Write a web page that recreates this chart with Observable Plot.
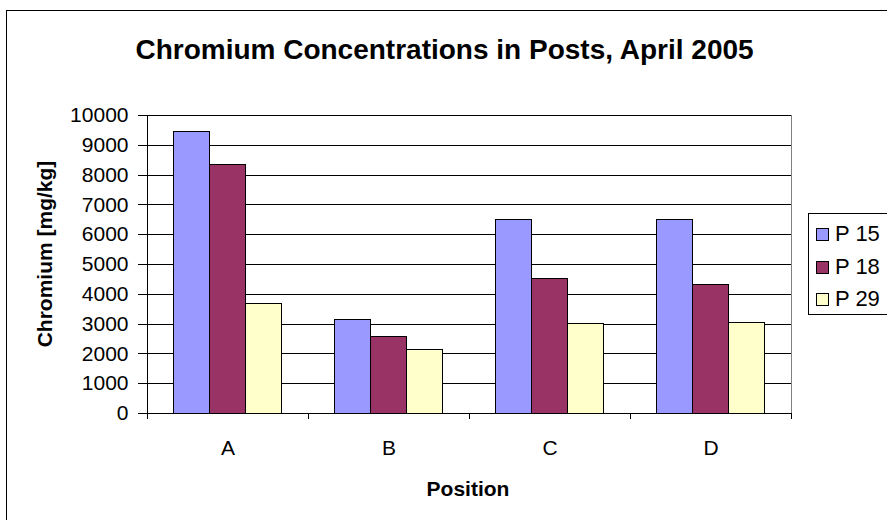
<!DOCTYPE html>
<html>
<head>
<meta charset="utf-8">
<script src="https://cdn.jsdelivr.net/npm/d3@7"></script>
<script src="https://cdn.jsdelivr.net/npm/@observablehq/plot@0.6"></script>
<style>
  html, body { margin: 0; padding: 0; background: #fff; overflow: hidden; }
  #wrap { position: relative; width: 887px; height: 520px; overflow: hidden; background: #fff;
          font-family: "Liberation Sans", Arial, sans-serif; color: #000; }
  #title { height: 90px; box-sizing: border-box; padding-top: 34px; padding-left: 2px; line-height: 32px;
           text-align: center; font-size: 28px; font-weight: bold; white-space: nowrap; }
  #frame { position: absolute; left: 6px; top: 10px; width: 1000px; height: 1000px;
           border: 1.5px solid #000; box-sizing: border-box; pointer-events: none; }
  #ytitle { position: absolute; left: 45px; top: 254px; transform: translate(-50%, -50%) rotate(-90deg);
            font-size: 21px; font-weight: bold; white-space: nowrap; line-height: 24px; }
  #xtitle { position: absolute; left: 468px; top: 489px; transform: translate(-50%, -50%);
            font-size: 21px; font-weight: bold; white-space: nowrap; line-height: 24px; }
  #legend { position: absolute; left: 808px; top: 213px; width: 120px; height: 102px; box-sizing: border-box;
            border: 1px solid #000; background: #fff; }
  .row { position: absolute; left: 7px; height: 24px; display: flex; align-items: center; font-size: 22px; line-height: 24px; white-space: nowrap; }
  .sw { width: 13px; height: 13px; box-sizing: border-box; border: 1px solid #000; margin-right: 6px; }
</style>
</head>
<body>
<div id="wrap">
  <div id="title">Chromium Concentrations in Posts, April 2005</div>
  <div id="chart"></div>
  <div id="ytitle">Chromium [mg/kg]</div>
  <div id="xtitle">Position</div>
  <div id="legend"></div>
  <div id="frame"></div>
</div>
<script>
// ---- data ----
const positions = ["A", "B", "C", "D"];
const seriesNames = ["P 15", "P 18", "P 29"];
const p15 = [9450, 3150, 6500, 6500];
const p18 = [8350, 2580, 4500, 4320];
const p29 = [3680, 2140, 3000, 3040];
const seriesColors = ["#9999FF", "#993366", "#FFFFCC"];
const yTicks = [0, 1000, 2000, 3000, 4000, 5000, 6000, 7000, 8000, 9000, 10000];

const seriesValues = [p15, p18, p29];
const rows = [];
positions.forEach((pos, i) => {
  seriesNames.forEach((s, j) => rows.push({position: pos, series: s, value: seriesValues[j][i]}));
});

const plot = Plot.plot({
  width: 887,
  height: 430,
  marginLeft: 147,
  marginRight: 96,
  marginTop: 25,
  marginBottom: 107,
  style: {fontFamily: "'Liberation Sans', Arial, sans-serif", color: "#000", background: "transparent", overflow: "visible"},
  fx: {domain: positions, padding: 0, round: false, label: null},
  x: {domain: seriesNames, paddingInner: 0, paddingOuter: 0.736, round: false, axis: null},
  y: {domain: [0, 10000], label: null},
  color: {domain: seriesNames, range: seriesColors},
  marks: [
    Plot.ruleY(yTicks, {stroke: "#000", strokeWidth: 1, shapeRendering: "crispEdges"}),
    Plot.barY(rows, {fx: "position", x: "series", y: "value", fill: "series", stroke: "#000", strokeWidth: 1, shapeRendering: "crispEdges"}),
    Plot.axisY({ticks: yTicks, tickSize: 9, tickPadding: 10, fontSize: 21, tickFormat: d => String(d), label: null, stroke: "#000", shapeRendering: "crispEdges"}),
    Plot.axisFx({anchor: "bottom", tickSize: 0, tickPadding: 27, fontSize: 21, label: null})
  ]
});
document.getElementById("chart").appendChild(plot);

// axis lines and category-boundary ticks from the plot's own scales
const fx = plot.scale("fx");
const y = plot.scale("y");
const yBase = y.apply(0), yTop = y.apply(10000);
const edges = positions.map(p => fx.apply(p));
edges.push(fx.apply(positions[positions.length - 1]) + fx.bandwidth);
const svg = d3.select(plot);
const g = svg.append("g").attr("shape-rendering", "crispEdges");
g.append("line").attr("x1", edges[edges.length - 1]).attr("x2", edges[edges.length - 1])
  .attr("y1", yTop).attr("y2", yBase).attr("stroke", "#808080");
g.append("line").attr("x1", edges[0]).attr("x2", edges[0])
  .attr("y1", yTop).attr("y2", yBase + 6).attr("stroke", "#000");
edges.forEach(x => g.append("line").attr("x1", x).attr("x2", x)
  .attr("y1", yBase).attr("y2", yBase + 6).attr("stroke", "#000"));

// legend
const legend = document.getElementById("legend");
const rowTops = [8, 41, 73];
seriesNames.forEach((s, i) => {
  const r = document.createElement("div");
  r.className = "row";
  r.style.top = rowTops[i] + "px";
  const sw = document.createElement("div");
  sw.className = "sw";
  sw.style.background = seriesColors[i];
  const t = document.createElement("span");
  t.textContent = s;
  r.appendChild(sw); r.appendChild(t);
  legend.appendChild(r);
});
</script>
</body>
</html>
